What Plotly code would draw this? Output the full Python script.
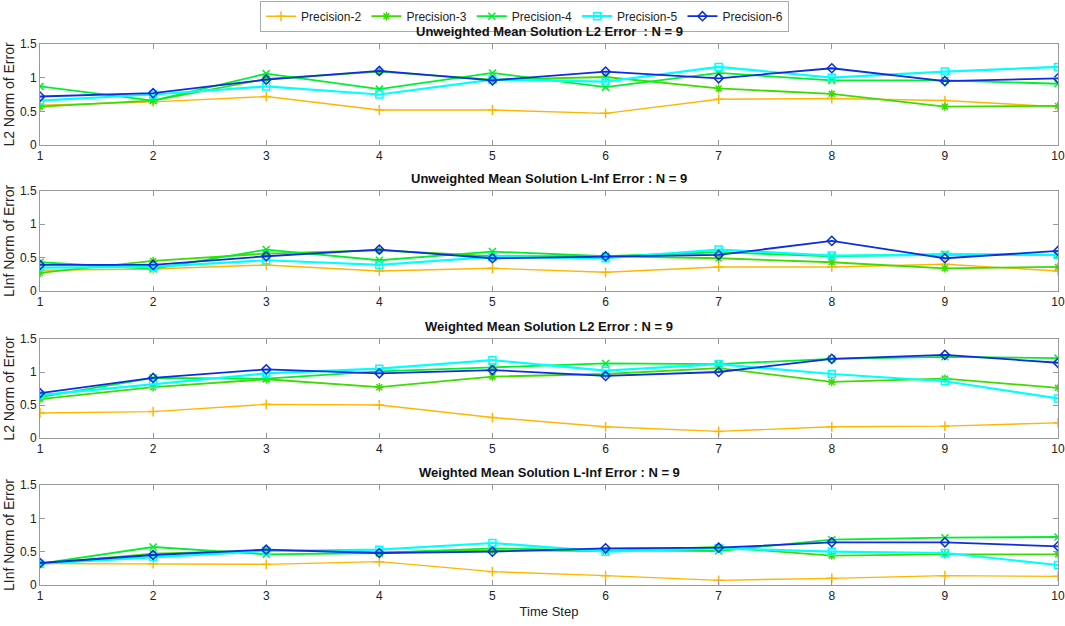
"""Mean solution error by precision, four stacked panels."""

import plotly.graph_objects as go
from plotly.subplots import make_subplots

time_step = [1, 2, 3, 4, 5, 6, 7, 8, 9, 10]
series_names = ["Precision-2", "Precision-3", "Precision-4", "Precision-5", "Precision-6"]

# unweighted mean, L2 error
uw_l2_p2 = [0.59, 0.64, 0.72, 0.52, 0.52, 0.47, 0.68, 0.69, 0.66, 0.57]
uw_l2_p3 = [0.57, 0.66, 0.98, 1.09, 0.97, 1.01, 0.84, 0.76, 0.57, 0.58]
uw_l2_p4 = [0.87, 0.66, 1.06, 0.83, 1.07, 0.86, 1.07, 0.96, 0.96, 0.91]
uw_l2_p5 = [0.66, 0.75, 0.87, 0.75, 0.97, 0.94, 1.16, 1.00, 1.09, 1.16]
uw_l2_p6 = [0.72, 0.77, 0.97, 1.10, 0.96, 1.09, 0.99, 1.14, 0.95, 0.99]

# unweighted mean, L-inf error
uw_inf_p2 = [0.31, 0.33, 0.39, 0.30, 0.34, 0.28, 0.36, 0.36, 0.40, 0.30]
uw_inf_p3 = [0.27, 0.45, 0.56, 0.61, 0.52, 0.52, 0.49, 0.43, 0.34, 0.36]
uw_inf_p4 = [0.43, 0.33, 0.62, 0.46, 0.59, 0.52, 0.58, 0.52, 0.55, 0.54]
uw_inf_p5 = [0.35, 0.36, 0.46, 0.39, 0.51, 0.49, 0.62, 0.53, 0.54, 0.54]
uw_inf_p6 = [0.39, 0.39, 0.52, 0.62, 0.49, 0.52, 0.54, 0.75, 0.49, 0.60]

# weighted mean, L2 error
w_l2_p2 = [0.38, 0.40, 0.51, 0.50, 0.31, 0.17, 0.10, 0.17, 0.18, 0.23]
w_l2_p3 = [0.59, 0.77, 0.89, 0.77, 0.93, 0.97, 1.06, 0.85, 0.90, 0.76]
w_l2_p4 = [0.62, 0.91, 0.90, 1.01, 1.07, 1.13, 1.12, 1.20, 1.23, 1.21]
w_l2_p5 = [0.65, 0.82, 0.98, 1.05, 1.18, 1.02, 1.12, 0.97, 0.86, 0.60]
w_l2_p6 = [0.68, 0.91, 1.04, 0.98, 1.03, 0.94, 1.00, 1.20, 1.26, 1.14]

# weighted mean, L-inf error
w_inf_p2 = [0.32, 0.32, 0.31, 0.35, 0.20, 0.14, 0.07, 0.10, 0.14, 0.13]
w_inf_p3 = [0.32, 0.47, 0.52, 0.49, 0.52, 0.51, 0.57, 0.44, 0.46, 0.46]
w_inf_p4 = [0.32, 0.57, 0.46, 0.48, 0.55, 0.52, 0.51, 0.68, 0.71, 0.72]
w_inf_p5 = [0.32, 0.42, 0.51, 0.53, 0.63, 0.50, 0.55, 0.50, 0.48, 0.30]
w_inf_p6 = [0.33, 0.45, 0.53, 0.48, 0.50, 0.55, 0.56, 0.64, 0.64, 0.58]

panels = [
    ("Unweighted Mean Solution L2 Error \u00a0: N = 9", "L2 Norm of Error",
     [uw_l2_p2, uw_l2_p3, uw_l2_p4, uw_l2_p5, uw_l2_p6]),
    ("Unweighted Mean Solution L-Inf Error : N = 9", "LInf Norm of Error",
     [uw_inf_p2, uw_inf_p3, uw_inf_p4, uw_inf_p5, uw_inf_p6]),
    ("Weighted Mean Solution L2 Error : N = 9", "L2 Norm of Error",
     [w_l2_p2, w_l2_p3, w_l2_p4, w_l2_p5, w_l2_p6]),
    ("Weighted Mean Solution L-Inf Error : N = 9", "LInf Norm of Error",
     [w_inf_p2, w_inf_p3, w_inf_p4, w_inf_p5, w_inf_p6]),
]

colors = ["#ffb600", "#3ddc00", "#00ee30", "#00ffff", "#0a2ee0"]
symbols = ["cross-thin-open", "asterisk-open", "x-thin-open", "square-open", "diamond-open"]
widths = [1.4, 1.8, 1.8, 2.2, 1.8]

fig = make_subplots(rows=4, cols=1, vertical_spacing=0.06)

for r, (title, ylab, series) in enumerate(panels, start=1):
    for i, vals in enumerate(series):
        fig.add_trace(go.Scatter(
            x=time_step, y=vals, mode="lines+markers", name=series_names[i],
            line=dict(color=colors[i], width=widths[i]),
            marker=dict(symbol=symbols[i], size=7, color=colors[i],
                        line=dict(color=colors[i], width=1.5)),
            showlegend=(r == 1)), row=r, col=1)

domains = [(0.8133, 1.0), (0.5434, 0.7288), (0.2717, 0.4547), (0.0, 0.1848)]
for r, (lo, hi) in enumerate(domains, start=1):
    fig.update_yaxes(domain=[lo, hi], row=r, col=1)
    fig.add_annotation(text="<b>" + panels[r - 1][0] + "</b>", xref="paper", yref="paper",
                       x=0.5, y=hi, yshift=3, yanchor="bottom", showarrow=False,
                       font=dict(size=13, color="#111", family="Liberation Sans"))

axis_style = dict(showline=True, linecolor="#999", linewidth=1, mirror="ticks",
                  ticks="inside", ticklen=5, tickcolor="#999", showgrid=False,
                  zeroline=False, automargin=False, tickfont=dict(size=12, color="#222"))

for r in range(1, 5):
    fig.update_xaxes(range=[1, 10], tickvals=time_step, row=r, col=1, **axis_style)
    fig.update_yaxes(range=[0, 1.5], tickvals=[0, 0.5, 1, 1.5],
                     ticktext=["0", "0.5", "1", "1.5"],
                     title=dict(text=panels[r - 1][1], standoff=2,
                                font=dict(size=14, color="#222")),
                     row=r, col=1, **axis_style)

fig.update_xaxes(title=dict(text="Time Step", standoff=4, font=dict(size=13, color="#222")),
                 row=4, col=1)

fig.update_layout(
    width=1065, height=626,
    margin=dict(l=40, r=7, t=44, b=41, autoexpand=False),
    plot_bgcolor="white", paper_bgcolor="white",
    font=dict(family="Liberation Sans", color="#222"),
    legend=dict(orientation="h", x=0.476, xanchor="center", y=1.08, yanchor="top",
                bgcolor="white", bordercolor="#aaa", borderwidth=1,
                font=dict(size=12), itemwidth=30, tracegroupgap=0),
)

fig.write_html("out.html", config={"displayModeBar": False},
               post_script="document.body.style.margin='0';")
